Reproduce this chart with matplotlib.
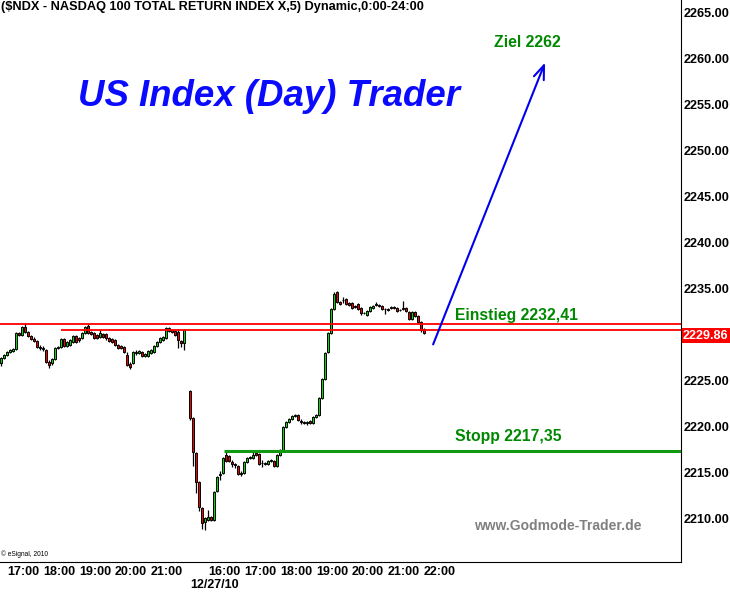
import matplotlib
matplotlib.use("Agg")
import matplotlib.pyplot as plt
import matplotlib.transforms as mtransforms
import numpy as np

plt.rcParams['font.family'] = ['Liberation Sans', 'DejaVu Sans']

# 5-Minuten-Kerzen, erster Handelsabschnitt (ca. 16:35 - 21:40)
day1_open = [2226.93, 2227.47, 2227.79, 2228.12, 2228.23, 2228.45, 2230.18, 2229.96, 2230.83, 2230.29,
             2229.86, 2229.53, 2229.31, 2228.66, 2228.55, 2228.34, 2227.03, 2226.93, 2227.36, 2228.55,
             2228.66, 2229.53, 2228.77, 2228.88, 2229.20, 2229.86, 2229.64, 2229.64, 2230.18, 2230.94,
             2230.29, 2230.18, 2229.96, 2229.75, 2230.07, 2230.07, 2229.64, 2229.53, 2229.42, 2228.88,
             2228.77, 2228.66, 2227.79, 2226.82, 2226.93, 2228.01, 2228.01, 2228.12, 2227.69, 2227.69,
             2228.01, 2228.12, 2228.77, 2229.20, 2229.42, 2229.64, 2230.72, 2230.51, 2230.40, 2230.29,
             2229.31, 2229.10]
day1_high = [2227.58, 2227.90, 2228.23, 2228.45, 2228.55, 2230.29, 2230.29, 2230.94, 2231.27, 2230.40,
             2229.96, 2229.75, 2229.42, 2228.88, 2228.77, 2228.45, 2227.25, 2227.47, 2228.66, 2228.77,
             2229.64, 2229.64, 2229.31, 2229.53, 2229.96, 2229.96, 2229.75, 2230.29, 2230.94, 2231.16,
             2230.40, 2230.29, 2230.07, 2230.51, 2230.18, 2230.18, 2229.75, 2229.64, 2229.53, 2228.99,
             2228.88, 2228.77, 2228.12, 2227.03, 2228.23, 2228.34, 2228.34, 2228.23, 2228.01, 2228.34,
             2228.45, 2228.88, 2229.31, 2229.75, 2229.86, 2230.83, 2230.83, 2230.62, 2230.51, 2230.62,
             2229.42, 2230.62]
day1_low = [2226.60, 2227.36, 2227.69, 2228.01, 2228.12, 2228.34, 2229.86, 2229.86, 2230.18, 2229.75,
            2229.42, 2229.20, 2228.55, 2228.34, 2228.23, 2226.93, 2226.38, 2226.71, 2227.25, 2228.45,
            2228.55, 2228.66, 2228.66, 2228.77, 2229.10, 2229.10, 2229.20, 2229.53, 2230.07, 2230.07,
            2229.96, 2229.53, 2229.53, 2229.64, 2229.64, 2229.42, 2229.20, 2229.10, 2228.77, 2228.45,
            2228.45, 2228.01, 2226.60, 2226.28, 2226.82, 2227.79, 2227.90, 2227.58, 2227.58, 2227.58,
            2227.90, 2228.01, 2228.66, 2229.10, 2229.31, 2229.53, 2230.29, 2230.18, 2229.86, 2228.55,
            2228.66, 2228.34]
day1_close = [2227.47, 2227.79, 2228.12, 2228.34, 2228.45, 2230.18, 2229.96, 2230.83, 2230.29, 2229.86,
              2229.53, 2229.31, 2228.66, 2228.55, 2228.45, 2227.03, 2226.71, 2227.36, 2228.55, 2228.66,
              2229.53, 2228.77, 2229.20, 2229.42, 2229.86, 2229.20, 2229.42, 2230.18, 2230.83, 2230.18,
              2230.07, 2229.64, 2229.64, 2230.18, 2229.75, 2229.64, 2229.31, 2229.20, 2228.88, 2228.55,
              2228.55, 2228.12, 2226.71, 2226.49, 2228.12, 2228.12, 2228.23, 2227.69, 2227.90, 2228.23,
              2228.34, 2228.77, 2229.20, 2229.64, 2229.75, 2230.72, 2230.40, 2230.29, 2229.96, 2229.42,
              2229.10, 2230.51]

# 5-Minuten-Kerzen, 12/27/10 (ca. 15:05 - 21:35)
day2_open = [2223.89, 2220.96, 2217.16, 2214.01, 2211.19, 2209.67, 2209.89, 2210.22, 2209.89, 2213.04,
             2214.77, 2214.99, 2216.94, 2216.84, 2216.18, 2215.97, 2215.75, 2214.88, 2214.99, 2216.18,
             2216.62, 2216.62, 2217.16, 2217.05, 2216.08, 2215.97, 2215.97, 2216.29, 2216.29, 2215.75,
             2216.94, 2217.49, 2219.98, 2220.52, 2220.85, 2221.18, 2221.28, 2220.63, 2220.52, 2220.42,
             2220.63, 2220.42, 2221.07, 2221.28, 2223.13, 2225.19, 2228.12, 2230.18, 2232.79, 2234.63,
             2233.54, 2233.76, 2233.87, 2233.44, 2233.44, 2233.11, 2233.33, 2232.89, 2232.35, 2232.13,
             2232.57, 2232.89, 2233.22, 2233.22, 2233.11, 2232.79, 2232.79, 2232.89, 2233.00, 2232.89,
             2232.68, 2232.79, 2232.89, 2232.46, 2231.70, 2232.46, 2232.03, 2231.37, 2230.62]
day2_high = [2224.00, 2221.07, 2217.27, 2214.12, 2211.30, 2210.22, 2210.98, 2210.33, 2213.04, 2214.67,
             2215.21, 2216.73, 2217.38, 2216.94, 2216.40, 2216.08, 2215.86, 2215.21, 2216.29, 2216.73,
             2216.84, 2217.49, 2217.49, 2217.16, 2216.40, 2216.18, 2216.40, 2216.51, 2216.40, 2217.05,
             2217.60, 2220.09, 2220.63, 2220.96, 2221.28, 2221.39, 2221.39, 2220.85, 2220.63, 2220.63,
             2220.74, 2221.18, 2221.39, 2223.24, 2225.30, 2228.12, 2230.29, 2232.89, 2234.63, 2234.74,
             2233.65, 2234.09, 2233.98, 2233.54, 2233.54, 2233.22, 2233.44, 2233.00, 2232.46, 2232.68,
             2233.11, 2233.22, 2233.54, 2233.33, 2233.22, 2232.89, 2232.89, 2233.11, 2233.11, 2233.00,
             2232.79, 2233.65, 2233.00, 2232.57, 2232.57, 2232.57, 2232.13, 2231.48, 2230.72]
day2_low = [2220.74, 2215.75, 2212.82, 2210.87, 2208.91, 2208.81, 2209.78, 2209.78, 2209.78, 2212.93,
            2214.23, 2214.88, 2216.18, 2216.18, 2215.64, 2215.53, 2214.77, 2214.67, 2214.88, 2216.08,
            2216.51, 2216.51, 2216.84, 2215.86, 2215.64, 2215.86, 2215.86, 2216.18, 2215.64, 2215.64,
            2216.84, 2217.38, 2219.87, 2220.42, 2220.74, 2221.07, 2220.63, 2220.31, 2220.31, 2220.20,
            2220.31, 2220.31, 2220.96, 2221.18, 2223.02, 2225.08, 2228.01, 2230.07, 2232.68, 2233.44,
            2233.22, 2233.44, 2233.22, 2233.11, 2232.79, 2232.89, 2232.68, 2232.13, 2232.24, 2232.03,
            2232.46, 2232.79, 2233.11, 2233.00, 2232.68, 2232.24, 2232.57, 2232.79, 2232.79, 2232.46,
            2232.57, 2232.68, 2232.46, 2231.59, 2231.59, 2231.92, 2231.27, 2230.29, 2230.07]
day2_close = [2220.96, 2217.27, 2214.01, 2211.30, 2209.57, 2210.11, 2210.22, 2209.89, 2212.93, 2214.56,
              2214.88, 2216.62, 2216.29, 2216.29, 2215.97, 2215.86, 2214.88, 2214.99, 2216.18, 2216.62,
              2216.73, 2216.94, 2216.94, 2215.97, 2216.03, 2216.08, 2216.29, 2216.40, 2215.75, 2216.94,
              2217.49, 2219.98, 2220.52, 2220.85, 2221.18, 2221.28, 2220.74, 2220.52, 2220.42, 2220.52,
              2220.42, 2221.07, 2221.28, 2223.13, 2225.19, 2228.01, 2230.18, 2232.79, 2234.41, 2233.54,
              2233.33, 2233.80, 2233.33, 2233.22, 2232.89, 2233.00, 2232.79, 2232.35, 2232.40, 2232.57,
              2233.00, 2233.11, 2233.33, 2233.11, 2232.79, 2232.75, 2232.68, 2233.00, 2232.89, 2232.57,
              2232.65, 2232.89, 2232.57, 2231.70, 2232.46, 2232.03, 2231.37, 2230.51, 2230.18]

x_labels = ['17:00', '18:00', '19:00', '20:00', '21:00',
            '16:00', '17:00', '18:00', '19:00', '20:00', '21:00', '22:00']
date_label = '12/27/10'
y_ticks = [2210, 2215, 2220, 2225, 2235, 2240, 2245, 2250, 2255, 2260, 2265]
last_price = 2229.86
resist_upper = 2231.16
resist_lower = 2230.51
entry = 2232.41
stop = 2217.35
target = 2262
arrow_from = 2228.66
arrow_to = 2259.80

# Kerzen nebeneinander legen, zwischen den Tagen 1 Bar Luecke
x1 = np.arange(len(day1_open))
x2 = np.arange(len(day2_open)) + len(day1_open) + 1
xs = np.concatenate([x1, x2])
o = np.array(day1_open + day2_open)
h = np.array(day1_high + day2_high)
l = np.array(day1_low + day2_low)
c = np.array(day1_close + day2_close)

fig = plt.figure(figsize=(7.3, 5.93), dpi=100)
ax = fig.add_axes([0, 31 / 593, 681 / 730, 562 / 593])

ax.vlines(xs, l, h, color='black', lw=0.9, zorder=2)
colors = np.where(c > o, '#00dd00', np.where(c < o, '#ee0000', 'black'))
heights = np.where(np.abs(c - o) < 0.02, 0.04, c - o)
ax.bar(xs, heights, bottom=o, width=0.8, color=colors, edgecolor='black', linewidth=0.7, zorder=3)

# Widerstandslinien, Stopp-Linie
ax.axhline(resist_upper, color='red', lw=1.3, zorder=4)
ax.hlines(resist_lower, 20, 230, color='red', lw=1.3, zorder=4)
ax.hlines(stop, x2[0] + 11.3, 230, color='#119911', lw=2.2, zorder=4)

# Zielpfeil
ax.annotate('', xy=(181.7, arrow_to), xytext=(143.7, arrow_from),
            arrowprops=dict(arrowstyle='->,head_length=1.0,head_width=0.38', color='#0000ee', lw=1.5),
            zorder=5)

green = '#008800'
ax.text(175.3, 2261.75, f'Ziel {target}', color=green, fontsize=11.3, fontweight='bold',
        ha='center', va='center')
ax.text(151.3, 2232.13, 'Einstieg ' + f'{entry:.2f}'.replace('.', ','), color=green,
        fontsize=11.3, fontweight='bold', ha='left', va='center')
ax.text(151.3, 2219.0, 'Stopp ' + f'{stop:.2f}'.replace('.', ','), color=green,
        fontsize=11.3, fontweight='bold', ha='left', va='center')
ax.text(157.7, 2209.24, 'www.Godmode-Trader.de', color='#808080', fontsize=10,
        fontweight='bold', ha='left', va='center')
ax.text(25.7, 2255.8, 'US Index (Day) Trader', color='#0a0aff', fontsize=26.4,
        fontweight='bold', fontstyle='italic', ha='left', va='center')

fig.text(0.001, 1 - 7 / 593, '($NDX - NASDAQ 100 TOTAL RETURN INDEX X,5) Dynamic,0:00-24:00',
         fontsize=9.2, fontweight='bold', ha='left', va='center')
fig.text(0.002, 1 - 554 / 593, '\u00a9 eSignal, 2010', fontsize=4.8, ha='left', va='center')

# Achsen
ax.set_xlim(-0.33, 226.67)
ax.set_ylim(2205.33, 2266.31)
ax.spines['top'].set_visible(False)
ax.spines['left'].set_visible(False)
ax.yaxis.tick_right()
ax.set_yticks(y_ticks)
ax.set_yticklabels([f'{v:.2f}' for v in y_ticks], fontsize=9.1, fontweight='bold')
ax.tick_params(axis='y', length=0, pad=2)

tick_pos = [7.3 + 12 * n for n in range(5)] + [x2[0] + 11.3 + 12 * n for n in range(7)]
ax.set_xticks(tick_pos)
ax.set_xticklabels(x_labels, fontsize=9, fontweight='bold')
ax.tick_params(axis='x', length=0, pad=3)

trans = mtransforms.blended_transform_factory(ax.transData, fig.transFigure)
ax.text(x2[0] + 8.3, 1 - 585 / 593, date_label, transform=trans, fontsize=9,
        fontweight='bold', ha='center', va='center')

# aktueller Kurs am rechten Rand
trans_y = mtransforms.blended_transform_factory(ax.transAxes, ax.transData)
ax.text(1.003, last_price, f'{last_price:.2f}', transform=trans_y, color='white',
        fontsize=9.1, fontweight='bold', ha='left', va='center',
        bbox=dict(boxstyle='square,pad=0.12', fc='#ff0000', ec='none'))

fig.savefig('out.png', dpi=100)
